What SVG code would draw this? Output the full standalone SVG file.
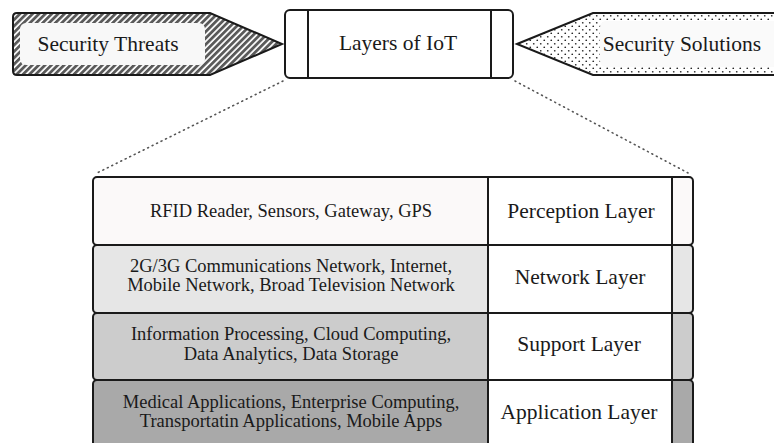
<svg xmlns="http://www.w3.org/2000/svg" width="774" height="443" viewBox="0 0 774 443">
<defs>
<pattern id="hatch" width="4.5" height="4.5" patternUnits="userSpaceOnUse" patternTransform="rotate(45)">
<rect width="4.5" height="4.5" fill="#ffffff"/>
<rect width="2.8" height="4.5" fill="#5a5a5a"/>
</pattern>
<pattern id="dots" width="7" height="7" patternUnits="userSpaceOnUse">
<rect width="7" height="7" fill="#ffffff"/>
<circle cx="1.75" cy="1.75" r="0.85" fill="#222"/>
<circle cx="5.25" cy="5.25" r="0.85" fill="#222"/>
</pattern>
<style>
.edge{stroke:#1a1a1a;stroke-width:2;fill:none}
.row{stroke:#1a1a1a;stroke-width:2}
.dot{stroke:#555;stroke-width:1.6;stroke-dasharray:1 4;fill:none;stroke-linecap:round}
</style>
</defs>

<g id="connectors">
<line class="dot" x1="283" y1="81" x2="95" y2="174"/>
<line class="dot" x1="515" y1="81" x2="690" y2="174"/>
</g>

<g id="threats">
<path d="M17,13 L210,13 L282,44 L210,75 L17,75 Q13,75 13,71 L13,17 Q13,13 17,13 Z" fill="url(#hatch)" stroke="#1a1a1a" stroke-width="2"/>
<rect x="20" y="23" width="185" height="42" rx="6" fill="#f8f8f8"/>
<text x="108" y="51" font-family="Liberation Serif" font-size="21.5" fill="#1a1a1a" text-anchor="middle">Security Threats</text>
</g>

<g id="layers-of-iot">
<rect x="285" y="10" width="228" height="68" rx="5" fill="#ffffff" stroke="#1a1a1a" stroke-width="2"/>
<line class="edge" x1="308" y1="10" x2="308" y2="78"/>
<line class="edge" x1="491" y1="10" x2="491" y2="78"/>
<text x="398" y="50" font-family="Liberation Serif" font-size="21.5" fill="#1a1a1a" text-anchor="middle">Layers of IoT</text>
</g>

<g id="solutions">
<path d="M517,44 L593,13 L776,13 L776,75 L593,75 Z" fill="url(#dots)" stroke="#1a1a1a" stroke-width="2"/>
<rect x="600" y="21" width="180" height="46" rx="6" fill="#fafafa"/>
<text x="682" y="51" font-family="Liberation Serif" font-size="21.5" fill="#1a1a1a" text-anchor="middle">Security Solutions</text>
</g>

<g id="perception">
<rect class="row" x="93" y="177" width="600" height="68" rx="4" fill="#fbf9f9"/>
<rect x="488" y="178" width="184" height="66" fill="#ffffff"/>
<line class="edge" x1="488" y1="177" x2="488" y2="245"/>
<line class="edge" x1="672" y1="177" x2="672" y2="245"/>
<text x="291" y="217" font-family="Liberation Serif" font-size="18.5" fill="#1a1a1a" text-anchor="middle">RFID Reader, Sensors, Gateway, GPS</text>
<text x="581" y="218" font-family="Liberation Serif" font-size="21.5" fill="#1a1a1a" text-anchor="middle">Perception Layer</text>
</g>

<g id="network">
<rect class="row" x="93" y="245" width="600" height="68" rx="4" fill="#e6e6e6"/>
<rect x="488" y="246" width="184" height="66" fill="#ffffff"/>
<line class="edge" x1="488" y1="245" x2="488" y2="313"/>
<line class="edge" x1="672" y1="245" x2="672" y2="313"/>
<text x="291" y="272" font-family="Liberation Serif" font-size="18.5" fill="#1a1a1a" text-anchor="middle">2G/3G Communications Network, Internet,</text>
<text x="291" y="291" font-family="Liberation Serif" font-size="18.5" fill="#1a1a1a" text-anchor="middle">Mobile Network, Broad Television Network</text>
<text x="580" y="284" font-family="Liberation Serif" font-size="21.5" fill="#1a1a1a" text-anchor="middle">Network Layer</text>
</g>

<g id="support">
<rect class="row" x="93" y="313" width="600" height="67" rx="4" fill="#cccccc"/>
<rect x="488" y="314" width="184" height="65" fill="#ffffff"/>
<line class="edge" x1="488" y1="313" x2="488" y2="380"/>
<line class="edge" x1="672" y1="313" x2="672" y2="380"/>
<text x="291" y="340" font-family="Liberation Serif" font-size="18.5" fill="#1a1a1a" text-anchor="middle">Information Processing, Cloud Computing,</text>
<text x="291" y="360" font-family="Liberation Serif" font-size="18.5" fill="#1a1a1a" text-anchor="middle">Data Analytics, Data Storage</text>
<text x="579" y="351" font-family="Liberation Serif" font-size="21.5" fill="#1a1a1a" text-anchor="middle">Support Layer</text>
</g>

<g id="application">
<rect class="row" x="93" y="380" width="600" height="70" rx="4" fill="#a9a9a9"/>
<rect x="488" y="381" width="184" height="68" fill="#ffffff"/>
<line class="edge" x1="488" y1="380" x2="488" y2="450"/>
<line class="edge" x1="672" y1="380" x2="672" y2="450"/>
<text x="291" y="408" font-family="Liberation Serif" font-size="18.5" fill="#1a1a1a" text-anchor="middle">Medical Applications, Enterprise Computing,</text>
<text x="291" y="427" font-family="Liberation Serif" font-size="18.5" fill="#1a1a1a" text-anchor="middle">Transportatin Applications, Mobile Apps</text>
<text x="579" y="419" font-family="Liberation Serif" font-size="21.5" fill="#1a1a1a" text-anchor="middle">Application Layer</text>
</g>
</svg>
